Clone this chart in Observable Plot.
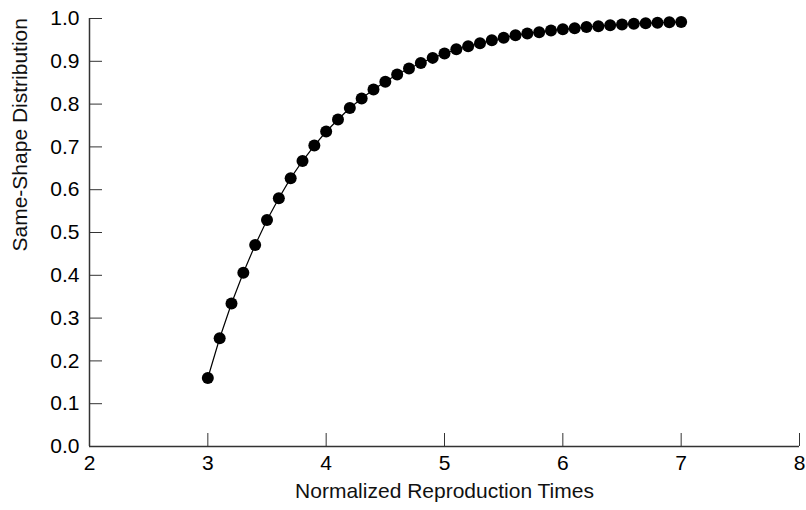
<!DOCTYPE html>
<html>
<head>
<meta charset="utf-8">
<script src="https://cdn.jsdelivr.net/npm/d3@7"></script>
<script src="https://cdn.jsdelivr.net/npm/@observablehq/plot@0.6"></script>
<style>
  html, body { margin: 0; padding: 0; background: #fff; }
</style>
</head>
<body>
<div id="chart"></div>
<script>
const xValues = [3.0, 3.1, 3.2, 3.3, 3.4, 3.5, 3.6, 3.7, 3.8, 3.9,
                 4.0, 4.1, 4.2, 4.3, 4.4, 4.5, 4.6, 4.7, 4.8, 4.9,
                 5.0, 5.1, 5.2, 5.3, 5.4, 5.5, 5.6, 5.7, 5.8, 5.9,
                 6.0, 6.1, 6.2, 6.3, 6.4, 6.5, 6.6, 6.7, 6.8, 6.9,
                 7.0];
const yValues = [0.160, 0.253, 0.334, 0.406, 0.471, 0.529, 0.580, 0.627, 0.667, 0.703,
                 0.736, 0.764, 0.791, 0.813, 0.834, 0.852, 0.869, 0.883, 0.896, 0.908,
                 0.918, 0.928, 0.935, 0.942, 0.949, 0.955, 0.961, 0.965, 0.968, 0.972,
                 0.975, 0.977, 0.980, 0.982, 0.984, 0.986, 0.988, 0.989, 0.990, 0.991,
                 0.992];
const xTicks = [2, 3, 4, 5, 6, 7, 8];
const yTicks = [0.0, 0.1, 0.2, 0.3, 0.4, 0.5, 0.6, 0.7, 0.8, 0.9, 1.0];
const xLabel = "Normalized Reproduction Times";
const yLabel = "Same-Shape Distribution";

const data = xValues.map((x, i) => ({x, y: yValues[i]}));

const chart = Plot.plot({
  width: 806,
  height: 510,
  marginLeft: 89,
  marginRight: 7,
  marginTop: 18,
  marginBottom: 64,
  style: {fontFamily: "'Liberation Sans', Arial, Helvetica, sans-serif", fontSize: "21px", color: "#000", background: "#fff"},
  x: {domain: [2, 8]},
  y: {domain: [0, 1]},
  marks: [
    Plot.axisX({ticks: xTicks, tickSize: -13, tickPadding: 22, label: null, tickFormat: d3.format("d"), stroke: "#333"}),
    Plot.axisY({ticks: yTicks, tickSize: -13, tickPadding: 23, label: null, tickFormat: d3.format(".1f"), stroke: "#333"}),
    Plot.ruleX([2], {stroke: "#333", strokeWidth: 1.5}),
    Plot.ruleY([0], {stroke: "#333", strokeWidth: 1.5}),
    Plot.line(data, {x: "x", y: "y", stroke: "#000", strokeWidth: 1.2}),
    Plot.dot(data, {x: "x", y: "y", r: 6, fill: "#000", stroke: "none"}),
    Plot.text([xLabel], {text: d => d, frameAnchor: "bottom", dy: 51, fontSize: 21, fill: "#111"}),
    Plot.text([yLabel], {text: d => d, frameAnchor: "left", rotate: -90, dx: -69, dy: 19, fontSize: 21, fill: "#111"})
  ]
});
document.getElementById("chart").appendChild(chart);
</script>
</body>
</html>
